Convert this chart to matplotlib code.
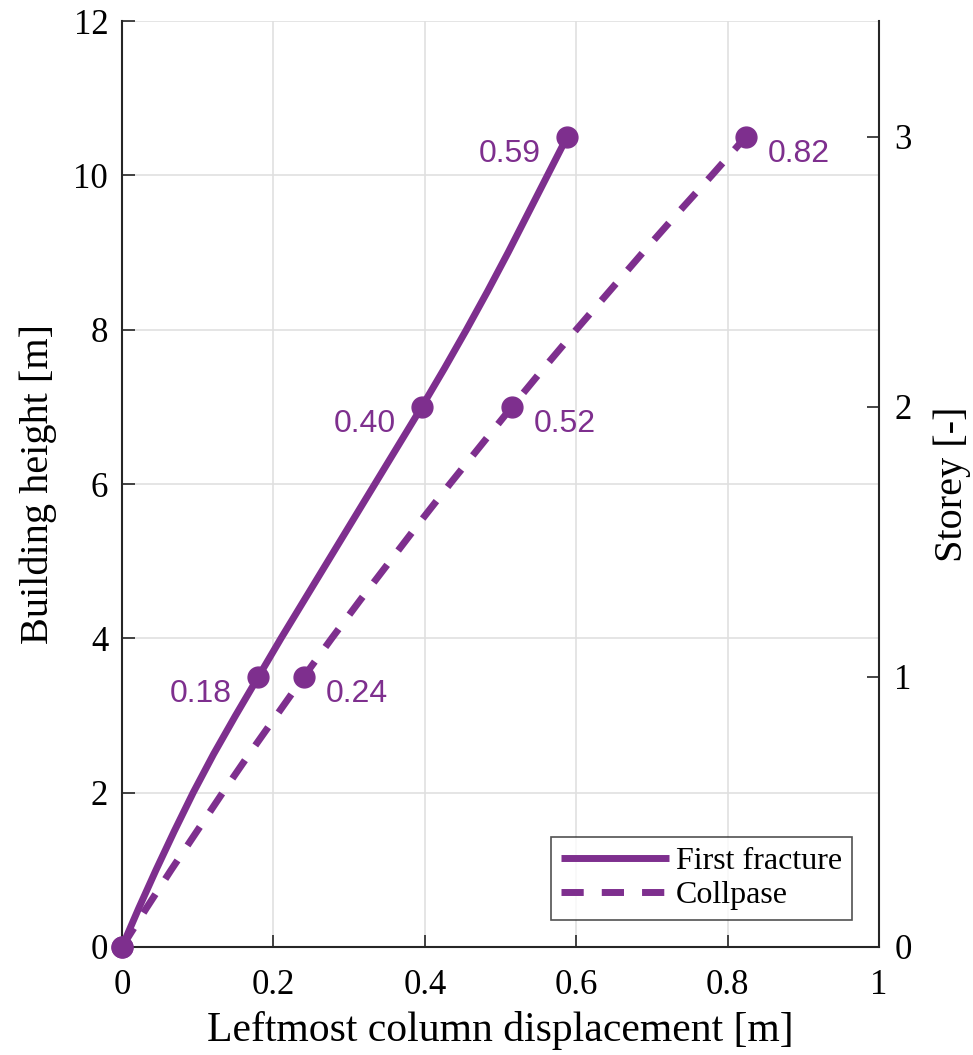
import numpy as np
import matplotlib
matplotlib.use("Agg")
import matplotlib.pyplot as plt

# Marker data: storey levels, heights and displacements
storeys = [0, 1, 2, 3]
heights = [0, 3.5, 7, 10.5]
disp_fracture = [0, 0.18, 0.396, 0.588]
disp_collapse = [0, 0.24, 0.515, 0.824]
labels_fracture = ["", "0.18", "0.40", "0.59"]
labels_collapse = ["", "0.24", "0.52", "0.82"]

# Points read along the drawn (smooth) curves, every 0.5 m of height
curve_h = [0, 0.5, 1, 1.5, 2, 2.5, 3, 3.5, 4, 4.5, 5, 5.5, 6, 6.5, 7,
           7.5, 8, 8.5, 9, 9.5, 10, 10.5]
curve_fracture = [0, 0.022, 0.045, 0.069, 0.094, 0.121, 0.150, 0.18, 0.210,
                  0.241, 0.272, 0.303, 0.334, 0.365, 0.396, 0.426, 0.455,
                  0.483, 0.510, 0.536, 0.562, 0.588]
curve_collapse = [0, 0.032, 0.065, 0.099, 0.133, 0.168, 0.204, 0.24, 0.277,
                  0.315, 0.354, 0.393, 0.433, 0.474, 0.515, 0.557, 0.600,
                  0.644, 0.688, 0.733, 0.779, 0.824]

purple = "#7E2F8E"
axcol = "#262626"
serif = ["Liberation Serif", "DejaVu Serif"]
sans = ["Liberation Sans", "DejaVu Sans"]

fig = plt.figure(figsize=(9.73, 10.55), dpi=100)
ax = fig.add_axes([0.1254, 0.1024, 0.778, 0.8776])
ax2 = ax.twinx()

ax.plot(curve_fracture, curve_h, color=purple, lw=5, solid_capstyle="butt",
        label="First fracture", zorder=3, clip_on=False)
ax.plot(curve_collapse, curve_h, color=purple, lw=5, ls=(0, (3.2, 2.6)),
        dash_capstyle="butt", label="Collpase", zorder=3, clip_on=False)
ax.plot(disp_fracture, heights, "o", color=purple, ms=15, zorder=4, clip_on=False)
ax.plot(disp_collapse, heights, "o", color=purple, ms=15, zorder=4, clip_on=False)

# value annotations: fracture to the left, collapse to the right
for x, y, t in zip(disp_fracture, heights, labels_fracture):
    if t:
        ax.annotate(t, (x, y), xytext=(-19, -12), textcoords="offset points",
                    ha="right", va="center", color=purple, fontsize=23,
                    family=sans)
for x, y, t in zip(disp_collapse, heights, labels_collapse):
    if t:
        ax.annotate(t, (x, y), xytext=(16, -12), textcoords="offset points",
                    ha="left", va="center", color=purple, fontsize=23,
                    family=sans)

ax.set_xlim(0, 1)
ax.set_ylim(0, 12)
ax.set_xticks([0, 0.2, 0.4, 0.6, 0.8, 1])
ax.set_xticklabels(["0", "0.2", "0.4", "0.6", "0.8", "1"])
ax.set_yticks([0, 2, 4, 6, 8, 10, 12])
ax.grid(True, color="#e0e0e0", lw=1.2)
ax.set_axisbelow(True)

ax2.set_ylim(0, 12 / 3.5)
ax2.set_yticks(storeys)

for a in (ax, ax2):
    a.spines["top"].set_visible(False)
    for s in a.spines.values():
        s.set_color(axcol)
        s.set_linewidth(1.5)
ax2.spines["left"].set_visible(False)
ax2.spines["bottom"].set_visible(False)
ax.spines["right"].set_visible(False)

ax.tick_params(axis="both", direction="in", length=9, width=1.2, color=axcol,
               labelsize=25, top=False, right=False)
ax.tick_params(axis="x", pad=16)
ax.tick_params(axis="y", pad=10)
ax2.tick_params(axis="y", direction="in", length=9, width=1.2, color=axcol,
                labelsize=25, pad=11)
for lab in ax.get_xticklabels() + ax.get_yticklabels() + ax2.get_yticklabels():
    lab.set_family(serif)

ax.set_xlabel("Leftmost column displacement [m]", fontsize=30, family=serif,
              labelpad=6)
ax.set_ylabel("Building height [m]", fontsize=29, family=serif, labelpad=12)
ax2.set_ylabel("Storey [-]", fontsize=29, family=serif, labelpad=16)

leg = ax.legend(loc="lower right", prop={"family": serif, "size": 23},
                frameon=True, fancybox=False, edgecolor=axcol,
                handlelength=3.4, handletextpad=0.22, borderpad=0.3,
                labelspacing=0.15, borderaxespad=0.85)
leg.get_frame().set_linewidth(1.2)

fig.savefig("out.png", dpi=100)
